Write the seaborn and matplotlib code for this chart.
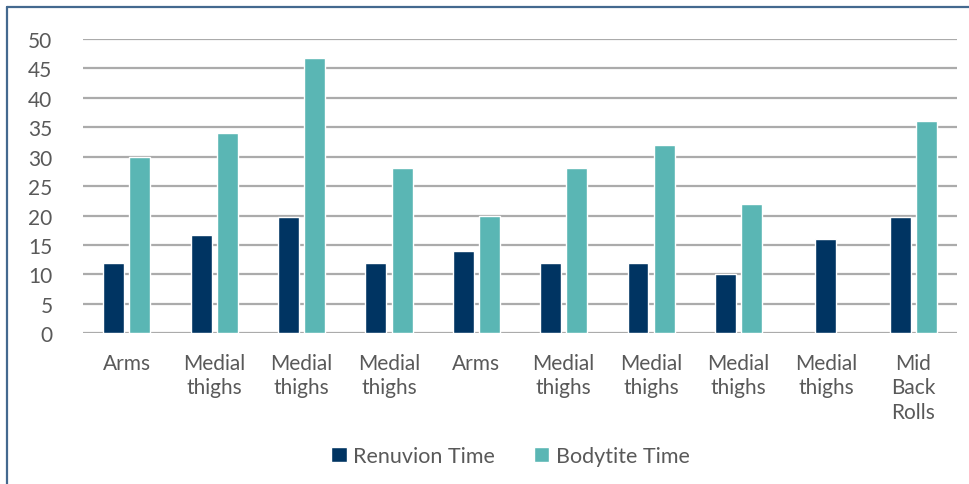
import matplotlib
matplotlib.use("Agg")
import matplotlib.pyplot as plt
from matplotlib.lines import Line2D
import numpy as np
import pandas as pd
import seaborn as sns

# Treatment areas and times per procedure
areas = ["Arms", "Medial\nthighs", "Medial\nthighs", "Medial\nthighs", "Arms",
         "Medial\nthighs", "Medial\nthighs", "Medial\nthighs", "Medial\nthighs",
         "Mid\nBack\nRolls"]
renuvion_time = [12, 16.7, 19.8, 12, 14, 12, 12, 10, 16, 19.8]
bodytite_time = [30, 34, 46.7, 28, 20, 28, 32, 22, np.nan, 36]
series_names = ["Renuvion Time", "Bodytite Time"]
colors = ["#003462", "#5AB6B4"]
y_ticks = [0, 5, 10, 15, 20, 25, 30, 35, 40, 45, 50]

sns.set_theme(style="white")
plt.rcParams["font.family"] = ["Lato", "DejaVu Sans"]

case_ids = [f"c{i}" for i in range(len(areas))]
df = pd.DataFrame({
    "case": case_ids * 2,
    "minutes": renuvion_time + bodytite_time,
    "series": [series_names[0]] * len(areas) + [series_names[1]] * len(areas),
})

fig = plt.figure(figsize=(9.7, 4.85), dpi=100)
ax = fig.add_axes([0.0856, 0.311, 0.9010, 0.6065])

sns.barplot(data=df, x="case", y="minutes", hue="series", order=case_ids,
            hue_order=series_names, palette=colors, width=0.6, gap=0.2,
            dodge=True, saturation=1, ax=ax, legend=True, zorder=3)

# A case with only one series gets its single bar centred on the category
for i, bval in enumerate(bodytite_time):
    if np.isnan(bval):
        for p in ax.patches:
            cx = p.get_x() + p.get_width() / 2
            if abs(cx - i) < 0.45 and p.get_height() > 0 and not np.isnan(p.get_height()):
                p.set_x(i - p.get_width() / 2)

ax.set_xlim(-0.5, len(areas) - 0.5)
ax.set_ylim(0, 50)
ax.set_yticks(y_ticks)
ax.set_yticklabels([str(t) for t in y_ticks])
ax.set_xticks(range(len(areas)))
ax.set_xticklabels(areas, linespacing=1.3)
ax.set_xlabel("")
ax.set_ylabel("")

ax.yaxis.grid(True, color="#ABABAB", linewidth=1.6, zorder=0)
ax.set_axisbelow(True)
for s in ax.spines.values():
    s.set_visible(False)
ax.tick_params(axis="y", length=0, pad=22, labelsize=15, labelcolor="#595959")
ax.tick_params(axis="x", length=0, pad=14, labelsize=15, labelcolor="#595959")
for lab in ax.get_xticklabels():
    lab.set_verticalalignment("top")

leg = ax.legend(loc="center", bbox_to_anchor=(0.489, (485 - 457 - 0.311 * 485) / (0.6065 * 485)),
                ncol=2, frameon=False, fontsize=15.5, handlelength=0.72, handleheight=0.72,
                handletextpad=0.3, columnspacing=1.8, labelcolor="#595959")

# Outer frame of the chart area
fig.add_artist(Line2D([7.5 / 970, 7.5 / 970], [0, 1 - 7.5 / 485], transform=fig.transFigure,
                      color="#44698F", linewidth=1.6))
fig.add_artist(Line2D([7.5 / 970, 1], [1 - 7.5 / 485, 1 - 7.5 / 485], transform=fig.transFigure,
                      color="#44698F", linewidth=1.6))

fig.savefig("out.png", dpi=100)
